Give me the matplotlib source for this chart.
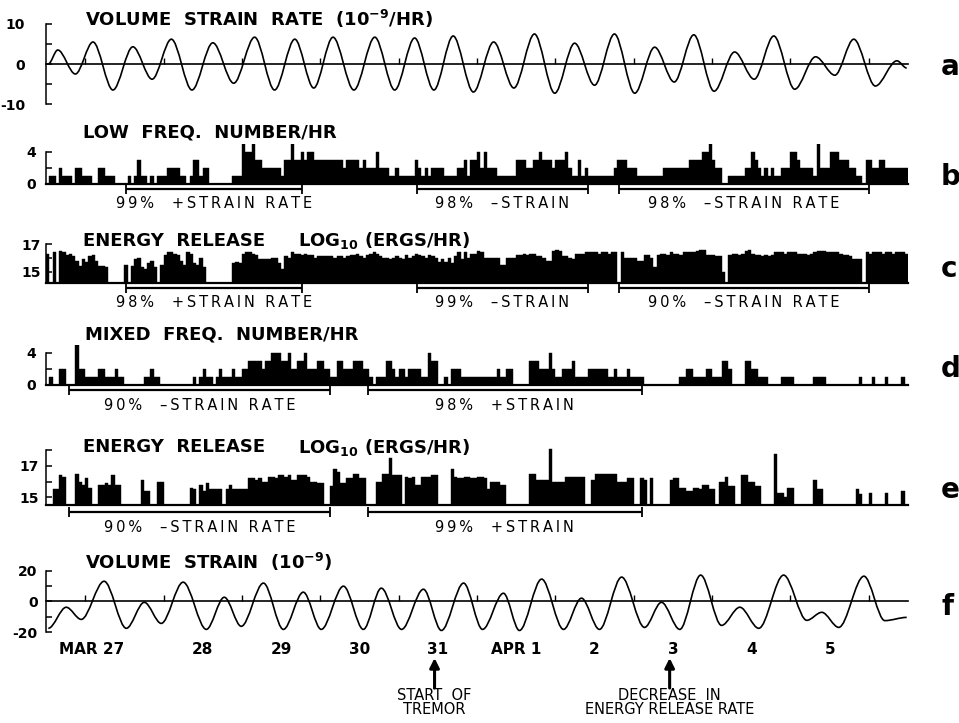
import numpy as np
import matplotlib
matplotlib.use("Agg")
import matplotlib.pyplot as plt
import matplotlib.transforms as mtransforms
from matplotlib.path import Path
from matplotlib.patches import PathPatch

plt.rcParams['font.family'] = ['DejaVu Sans']
plt.rcParams['mathtext.fontset'] = 'dejavusans'
plt.rcParams['mathtext.default'] = 'bf'

# time axis: hours after 00:00 Mar 27, hourly bins from -12 to 252
# ---- (a) volume strain rate, 1e-9/hr : turning points (hour, value)
rate_t = [-11.3, -8.4, -3.0, 2.4, 8.5, 14.6, 20.5, 26.4, 32.7, 39.1,
          45.5, 51.9, 58.0, 64.2, 70.0, 75.9, 82.3, 88.7, 94.8, 100.9,
          106.8, 112.7, 118.9, 125.1, 131.3, 137.6, 143.8, 149.9, 156.0, 162.1,
          168.3, 174.4, 180.4, 186.4, 192.6, 198.9, 204.9, 210.9, 217.3, 223.7,
          229.6, 235.4, 242.0, 248.6, 251.6]
rate_v = [0, 3.5, -2.5, 5.5, -6.5, 4.3, -3.8, 6.2, -6.5, 5.3,
          -4.8, 6.7, -6.5, 6.2, -6.0, 6.7, -6.5, 6.7, -6.5, 6.5,
          -6.5, 7.0, -7.0, 5.5, -6.0, 7.5, -7.3, 5.2, -5.3, 7.5,
          -7.3, 4.2, -4.5, 7.3, -6.8, 3.0, -3.8, 7.0, -6.3, 1.8,
          -2.8, 6.2, -5.5, 0.8, -1.0]

# ---- (f) volume strain, 1e-9 : turning points (hour, value)
strain_t = [-11.3, -5.8, -1.2, 5.8, 12.6, 18.1, 23.3, 30.0, 37.1, 42.6,
            47.8, 54.6, 60.7, 66.8, 72.3, 79.1, 85.2, 90.7, 96.9, 103.6,
            109.1, 115.9, 121.7, 128.1, 133.0, 139.8, 146.5, 152.0, 157.5, 164.3,
            171.3, 176.5, 182.1, 188.5, 194.9, 200.5, 206.3, 213.9, 221.0, 225.6,
            230.8, 238.5, 244.9, 251.6]
strain_v = [-17.6, -3.9, -11.8, 13.0, -17.6, -0.7, -14.4, 12.4, -18.3, 2.6,
            -16.3, 11.8, -18.3, 5.9, -18.3, 9.8, -18.3, 8.5, -18.3, 7.8,
            -19.0, 11.8, -18.3, 5.2, -19.0, 14.4, -18.3, 2.0, -18.3, 15.7,
            -17.0, -0.7, -18.3, 17.0, -15.7, -3.9, -17.6, 17.0, -12.4, -7.2,
            -17.0, 16.3, -12.6, -10.5]

# ---- (b) low frequency events per hour (one row = 24 h, first bin at -12 h)
low_count = [
    0, 1, 1, 0, 2, 1, 1, 1, 0, 2, 2, 1, 1, 1, 0, 0, 2, 2, 1, 1, 1, 0, 0, 0,
    0, 1, 0, 1, 3, 1, 1, 0, 1, 0, 1, 1, 1, 2, 2, 2, 2, 1, 1, 0, 1, 3, 3, 1,
    2, 2, 0, 0, 0, 0, 0, 0, 0, 1, 1, 1, 5, 4, 4, 5, 3, 3, 2, 2, 2, 2, 2, 2,
    1, 3, 3, 5, 3, 3, 4, 3, 4, 4, 3, 3, 3, 3, 3, 3, 3, 3, 3, 2, 3, 3, 3, 3,
    2, 3, 2, 2, 2, 4, 2, 2, 2, 1, 1, 2, 1, 1, 1, 1, 1, 3, 2, 1, 2, 1, 2, 2,
    2, 2, 1, 1, 1, 1, 2, 2, 3, 1, 3, 3, 4, 2, 4, 2, 2, 2, 1, 1, 1, 1, 1, 1,
    3, 3, 3, 2, 2, 3, 3, 4, 3, 3, 3, 2, 3, 3, 3, 4, 2, 1, 1, 3, 1, 2, 1, 1,
    1, 1, 1, 1, 1, 1, 2, 3, 3, 3, 2, 2, 2, 1, 1, 1, 1, 1, 1, 1, 1, 2, 2, 2,
    2, 2, 2, 2, 2, 3, 3, 3, 3, 4, 4, 5, 3, 2, 2, 0, 0, 1, 1, 1, 1, 1, 2, 2,
    4, 3, 2, 1, 2, 1, 2, 1, 1, 2, 2, 2, 4, 4, 3, 2, 2, 2, 2, 1, 5, 2, 2, 2,
    4, 4, 4, 3, 3, 3, 2, 2, 1, 1, 0, 3, 3, 2, 2, 3, 3, 2, 2, 2, 2, 2, 2, 2]

# ---- (c) low frequency energy release, log10 ergs/hr (0 = no events)
low_energy = [
    16.3, 0, 16.4, 0, 16.5, 16.4, 16.2, 16.3, 16.1, 15.8, 15.4, 15.9, 15.7, 16.1, 16.2, 15.8, 15.4, 15.4, 15.3, 0, 0, 0, 0, 0,
    15.5, 0, 15.4, 15.9, 16.0, 15.3, 15.2, 15.6, 15.8, 15.3, 0, 15.5, 16.2, 16.4, 16.4, 16.3, 16.2, 15.8, 15.5, 16.4, 16.3, 15.6, 15.5, 16.0,
    15.3, 0, 0, 0, 0, 0, 0, 0, 0, 15.6, 15.7, 15.6, 16.3, 16.4, 16.4, 16.3, 16.2, 15.9, 15.9, 15.9, 15.9, 16.0, 16.0, 15.6,
    15.2, 16.1, 16.0, 16.4, 16.3, 16.3, 16.2, 16.3, 16.2, 16.2, 16.0, 16.1, 16.1, 16.1, 16.1, 16.1, 16.0, 16.1, 16.1, 16.0, 16.1, 16.2, 16.2, 16.3,
    16.1, 16.0, 16.2, 16.3, 16.4, 16.3, 16.1, 16.0, 16.0, 15.9, 16.0, 16.1, 16.0, 15.9, 16.2, 16.0, 16.1, 16.3, 16.2, 16.1, 16.0, 16.2, 16.1, 16.0,
    15.7, 15.9, 15.7, 16.0, 15.6, 16.1, 16.4, 15.9, 16.4, 16.0, 16.3, 16.3, 16.5, 16.4, 16.0, 16.0, 16.0, 16.0, 16.0, 15.5, 15.5, 16.0, 16.0, 16.0,
    16.2, 16.2, 16.3, 16.2, 16.3, 16.3, 16.1, 16.1, 16.0, 15.8, 15.8, 16.5, 16.6, 16.5, 16.1, 16.1, 16.0, 15.9, 16.3, 16.3, 16.3, 16.4, 16.4, 16.4,
    16.4, 16.3, 16.4, 16.4, 16.3, 16.4, 16.4, 0, 16.4, 16.0, 16.0, 16.0, 16.0, 15.8, 15.8, 16.2, 16.2, 16.0, 15.3, 16.2, 16.3, 16.3, 16.2, 16.4,
    16.3, 16.3, 16.2, 16.4, 16.4, 16.4, 16.4, 16.5, 16.6, 16.6, 16.2, 16.2, 16.2, 16.1, 16.1, 15.0, 0, 16.2, 16.3, 16.3, 16.2, 16.3, 16.5, 16.6,
    16.3, 16.2, 16.2, 16.1, 16.2, 16.1, 16.2, 16.4, 16.4, 16.4, 16.3, 16.4, 16.4, 16.4, 16.3, 16.3, 16.3, 16.2, 16.3, 16.4, 16.5, 16.5, 16.5, 16.4,
    16.4, 16.4, 16.4, 16.3, 16.2, 16.2, 16.1, 15.9, 15.9, 15.9, 0, 16.4, 16.3, 16.4, 16.4, 16.4, 16.3, 16.4, 16.4, 16.3, 16.4, 16.4, 16.4, 16.3]

# ---- (d) mixed frequency events per hour
mixed_count = [
    0, 1, 0, 0, 2, 2, 0, 0, 0, 5, 2, 2, 1, 1, 1, 1, 2, 2, 1, 1, 1, 2, 1, 1,
    0, 0, 0, 0, 0, 0, 1, 1, 2, 1, 1, 0, 0, 0, 0, 0, 0, 0, 0, 0, 0, 1, 0, 1,
    2, 1, 1, 0, 1, 2, 1, 1, 1, 2, 1, 1, 2, 2, 3, 3, 3, 3, 2, 3, 3, 4, 4, 4,
    3, 3, 4, 2, 2, 3, 3, 4, 2, 2, 2, 3, 3, 2, 2, 1, 1, 3, 3, 2, 2, 2, 3, 3,
    3, 2, 2, 1, 0, 1, 1, 1, 3, 3, 2, 1, 2, 2, 1, 2, 2, 2, 2, 1, 1, 4, 3, 3,
    0, 0, 1, 0, 2, 2, 2, 1, 1, 1, 1, 1, 1, 1, 1, 1, 1, 1, 2, 1, 1, 2, 2, 0,
    0, 0, 0, 0, 3, 3, 3, 2, 2, 2, 4, 2, 1, 1, 2, 2, 2, 3, 1, 1, 1, 1, 2, 2,
    2, 2, 2, 2, 1, 1, 2, 1, 1, 1, 2, 1, 1, 1, 1, 0, 0, 0, 0, 0, 0, 0, 0, 0,
    0, 0, 1, 1, 2, 2, 1, 1, 1, 1, 2, 2, 1, 1, 1, 3, 3, 2, 0, 0, 0, 0, 3, 3,
    2, 2, 1, 1, 1, 0, 0, 0, 0, 1, 1, 1, 1, 0, 0, 0, 0, 0, 0, 1, 1, 1, 1, 0,
    0, 0, 0, 0, 0, 0, 0, 0, 0, 1, 0, 0, 0, 1, 0, 0, 0, 1, 0, 0, 0, 0, 1, 0]

# ---- (e) mixed frequency energy release, log10 ergs/hr (0 = no events)
mixed_energy = [
    0, 0, 15.5, 15.5, 16.4, 16.3, 0, 0, 0, 16.5, 16.0, 15.8, 16.2, 15.6, 0, 0, 15.8, 15.8, 15.9, 15.8, 16.4, 15.8, 15.8, 0,
    0, 0, 0, 0, 0, 16.1, 15.4, 15.4, 0, 0, 16.0, 16.0, 0, 0, 0, 0, 0, 0, 0, 0, 15.6, 15.5, 0, 15.8,
    15.4, 15.9, 15.5, 15.5, 15.5, 15.5, 0, 15.5, 15.8, 15.5, 15.5, 15.5, 15.5, 15.5, 16.2, 16.2, 16.1, 16.2, 16.0, 16.0, 16.3, 16.3, 16.2, 16.4,
    16.4, 16.3, 16.4, 16.1, 16.1, 16.4, 16.4, 16.4, 16.3, 16.0, 16.0, 15.9, 15.9, 0, 0, 15.7, 16.8, 16.6, 15.9, 15.9, 16.2, 16.2, 16.5, 16.5,
    16.2, 16.2, 0, 0, 0, 16.0, 16.0, 16.5, 16.5, 17.5, 16.4, 16.4, 16.4, 0, 16.3, 16.2, 16.3, 15.8, 15.8, 16.3, 16.3, 16.3, 16.4, 16.4,
    0, 0, 0, 0, 16.8, 16.3, 16.2, 16.2, 16.3, 16.3, 16.2, 16.2, 16.3, 16.3, 16.2, 15.5, 16.0, 16.0, 16.0, 15.8, 15.8, 0, 0, 0,
    0, 0, 0, 0, 16.5, 16.5, 16.1, 16.1, 16.1, 16.1, 18.1, 16.0, 16.0, 16.0, 16.0, 16.3, 16.3, 16.3, 16.3, 16.3, 16.3, 0, 0, 16.1,
    16.5, 16.5, 16.5, 16.5, 16.5, 16.5, 16.5, 16.0, 16.0, 16.0, 16.2, 16.2, 0, 0, 16.2, 16.1, 0, 16.2, 0, 0, 0, 0, 0, 16.1,
    16.2, 16.2, 15.6, 15.6, 15.4, 15.4, 15.6, 15.6, 15.5, 15.8, 15.8, 15.5, 15.5, 0, 16.0, 16.0, 16.3, 15.7, 15.7, 0, 0, 16.4, 16.4, 16.0,
    16.0, 15.7, 15.7, 0, 0, 0, 0, 17.8, 15.3, 15.3, 15.0, 15.6, 15.6, 0, 0, 0, 0, 0, 0, 16.1, 15.5, 15.5, 0, 0,
    0, 0, 0, 0, 0, 0, 0, 0, 15.5, 15.2, 0, 0, 15.3, 0, 0, 0, 0, 15.3, 0, 0, 0, 0, 15.4, 0]

# significance intervals (start hour, end hour) and their labels
low_spans = [(12.5, 66.5), (101.5, 154.0), (163.5, 240.0)]
low_count_labels = ["99%  +STRAIN RATE", "98%  \u2013STRAIN", "98%  \u2013STRAIN RATE"]
low_energy_labels = ["98%  +STRAIN RATE", "99%  \u2013STRAIN", "90%  \u2013STRAIN RATE"]
mixed_spans = [(-5.0, 75.0), (86.5, 170.5)]
mixed_count_labels = ["90%  \u2013STRAIN RATE", "98%  +STRAIN"]
mixed_energy_labels = ["90%  \u2013STRAIN RATE", "99%  +STRAIN"]

day_labels = ["MAR 27", "28", "29", "30", "31", "APR 1", "2", "3", "4", "5"]
tremor_start = 107.0
energy_drop = 179.0

hours = np.arange(264) - 12

W, H = 959, 723
L, R = 46, 908
fig = plt.figure(figsize=(W / 100, H / 100), dpi=100)
fig.patch.set_facecolor('white')


def spaced(s):
    # wide letter spacing of the typed labels
    return '\u2009'.join(s)


def panel(top, bottom, ylim):
    ax = fig.add_axes([L / W, 1 - bottom / H, (R - L) / W, (bottom - top) / H])
    ax.set_xlim(-12, 252)
    ax.set_ylim(*ylim)
    ax.spines['top'].set_visible(False)
    ax.spines['right'].set_visible(False)
    ax.patch.set_visible(False)
    return ax


def smooth_path(t, v):
    verts = [(t[0], v[0])]
    codes = [Path.MOVETO]
    for t0, v0, t1, v1 in zip(t[:-1], v[:-1], t[1:], v[1:]):
        d = (t1 - t0) / 3
        verts += [(t0 + d, v0), (t1 - d, v1), (t1, v1)]
        codes += [Path.CURVE4] * 3
    return Path(verts, codes)


def curve_panel(ax, t, v, ticks, labels, pad):
    ax.add_patch(PathPatch(smooth_path(t, v), fill=False, ec='black', lw=1.2))
    ax.spines['bottom'].set_position(('data', 0))
    ax.spines['bottom'].set_linewidth(1.2)
    ax.spines['left'].set_linewidth(1.1)
    ax.spines['left'].set_bounds(ticks[0], ticks[-1])
    ax.set_xticks(np.arange(0, 241, 24), [])
    ax.tick_params(axis='x', direction='in', length=4, width=1)
    ax.set_yticks(ticks, labels, fontweight='bold')
    ax.tick_params(axis='y', direction='in', length=4, width=1.1, pad=pad, labelsize=10)


def bar_panel(ax, vals, base, ticks, labels, pad):
    vals = np.asarray(vals, float)
    m = vals > base
    ax.bar(hours[m], vals[m] - base, bottom=base, width=1, align='edge',
           color='black', ec='black', lw=0.3)
    ax.spines['bottom'].set_linewidth(1.6)
    ax.spines['left'].set_linewidth(1.1)
    ax.spines['left'].set_bounds(base, ticks[-1])
    ax.set_xticks([])
    ax.set_yticks(ticks, labels, fontweight='bold')
    ax.tick_params(axis='y', direction='in', length=4, width=1.1, pad=pad, labelsize=10)


def brackets(ax, spans, labels, line_px, text_px):
    tr = mtransforms.blended_transform_factory(ax.transData, ax.transAxes)
    hpx = ax.get_position().height * H
    for (x0, x1), lab in zip(spans, labels):
        ax.plot([x0, x1], [-line_px / hpx] * 2, color='black', lw=1.6, marker='|',
                ms=7, mew=1.3, transform=tr, clip_on=False, solid_capstyle='butt')
        ax.text((x0 + x1) / 2, -text_px / hpx, spaced(lab), transform=tr, ha='center',
                va='center', fontsize=10.5)


def title(x, y, s):
    fig.text(x / W, 1 - y / H, s, ha='left', va='center', fontsize=13, fontweight='bold')


# (a)
ax_a = panel(24, 104, (-10, 10))
curve_panel(ax_a, rate_t, rate_v, [-10, -5, 0, 5, 10], ['-10', '', '0', '', '10'], 15)
title(85, 19, r"VOLUME  STRAIN  RATE  (10$^{-9}$/HR)")

# (b)
ax_b = panel(144, 183.5, (0, 5))
bar_panel(ax_b, low_count, 0, [0, 2, 4], ['0', '', '4'], 7)
brackets(ax_b, low_spans, low_count_labels, 5.5, 20.5)
title(83, 132, "LOW  FREQ.  NUMBER/HR")

# (c)
ax_c = panel(244, 283.3, (14.15, 17))
bar_panel(ax_c, low_energy, 14.15, [15, 16, 17], ['15', '', '17'], 4)
brackets(ax_c, low_spans, low_energy_labels, 4.7, 19.7)
title(83, 241, "ENERGY  RELEASE")
title(298, 241, r"LOG$_{10}$ (ERGS/HR)")

# (d)
ax_d = panel(345, 384.5, (0, 5))
bar_panel(ax_d, mixed_count, 0, [0, 2, 4], ['0', '', '4'], 7)
brackets(ax_d, mixed_spans, mixed_count_labels, 5.5, 21.5)
title(85, 335, "MIXED  FREQ.  NUMBER/HR")

# (e)
ax_e = panel(442.6, 505, (14.5, 18.5))
bar_panel(ax_e, mixed_energy, 14.5, [15, 16, 17, 18], ['15', '', '17', ''], 5)
brackets(ax_e, mixed_spans, mixed_energy_labels, 7, 22)
title(83, 447, "ENERGY  RELEASE")
title(298, 447, r"LOG$_{10}$ (ERGS/HR)")

# (f)
ax_f = panel(570.5, 632, (-20, 20))
curve_panel(ax_f, strain_t, strain_v, [-20, -10, 0, 10, 20], ['-20', '', '0', '', '20'], 6)
ax_f.set_xticks(np.arange(12, 240, 24), day_labels, minor=True, fontweight='bold', fontsize=11)
ax_f.tick_params(axis='x', which='minor', length=0, pad=29)
ax_f.get_xticklabels(minor=True)[0].set_ha('right')
title(85, 562, r"VOLUME  STRAIN  (10$^{-9}$)")

hf = 632 - 570.5
for hr, lines in [(tremor_start, ["START  OF", "TREMOR"]),
                  (energy_drop, ["DECREASE  IN", "ENERGY RELEASE RATE"])]:
    ax_f.annotate('', xy=(hr, (632 - 658) / hf), xycoords=('data', 'axes fraction'),
                  xytext=(hr, (632 - 688) / hf), textcoords=('data', 'axes fraction'),
                  annotation_clip=False,
                  arrowprops=dict(arrowstyle='-|>', color='black', lw=2.2,
                                  mutation_scale=14, shrinkA=0, shrinkB=0))
    for k, s in enumerate(lines):
        ax_f.text(hr, (632 - (695 + 14 * k)) / hf, s, transform=ax_f.get_xaxis_transform(),
                  ha='center', va='center', fontsize=10.5)

# panel letters
for y, s in [(75, 'a'), (185, 'b'), (277, 'c'), (377, 'd'), (498, 'e'), (615, 'f')]:
    fig.text(941 / W, 1 - y / H, s, ha='left', va='baseline', fontsize=20, fontweight='bold')

fig.savefig('out.png', dpi=100)
